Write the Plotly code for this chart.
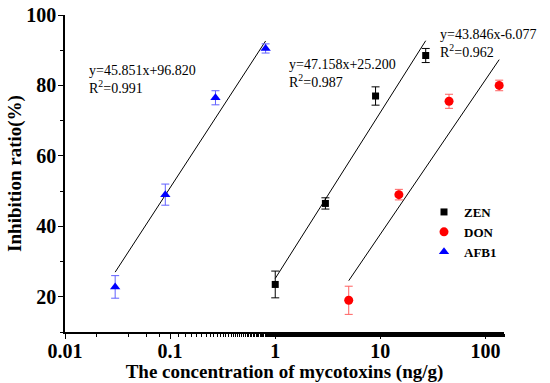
import numpy as np
import plotly.graph_objects as go

# Data
zen_x = [1, 3, 9, 27]
zen_y = [23.5, 46.5, 77.0, 88.5]
zen_err = [3.8, 1.6, 2.6, 2.0]

don_x = [5, 15, 45, 135]
don_y = [19.0, 49.0, 75.5, 80.0]
don_err = [4.0, 1.5, 2.0, 1.5]

afb_x = [0.03, 0.09, 0.27, 0.81]
afb_y = [22.8, 49.0, 76.5, 90.5]
afb_err = [3.2, 3.0, 2.0, 1.3]

# Fit coefficients (y = a*log10(x) + b, R^2)
zen_fit = (47.158, 25.200, 0.987)
don_fit = (43.846, -6.077, 0.962)
afb_fit = (45.851, 96.820, 0.991)

x_tickvals = [0.01, 0.1, 1, 10, 100]
x_ticktext = ["0.01", "0.1", "1", "10", "100"]
y_tickvals = [20, 40, 60, 80, 100]

SERIF = "Liberation Serif, Times New Roman, serif"

# plot-area geometry (pixels)
L, R, T, B = 65, 504, 15, 332
W, H = R - L, B - T

fig = go.Figure()

def fit_line(xs, coef):
    xe = np.array([min(xs), max(xs)], dtype=float)
    return xe, coef[0] * np.log10(xe) + coef[1]

for xs, coef in [(afb_x, afb_fit), (zen_x, zen_fit), (don_x, don_fit)]:
    lx, ly = fit_line(xs, coef)
    fig.add_trace(go.Scatter(x=lx, y=ly, mode="lines", line=dict(color="black", width=1),
                             showlegend=False, hoverinfo="skip"))

series = [
    ("ZEN", zen_x, zen_y, zen_err, "black", "black", "square", 7),
    ("DON", don_x, don_y, don_err, "red", "#ff6060", "circle", 9),
    ("AFB1", afb_x, afb_y, afb_err, "blue", "#6060ff", "triangle-up", 9),
]
for name, xs, ys, es, col, ecol, sym, sz in series:
    fig.add_trace(go.Scatter(
        x=xs, y=ys, mode="markers", name=name,
        marker=dict(color=col, symbol=sym, size=sz),
        error_y=dict(type="data", array=es, visible=True, color=ecol, thickness=1, width=4),
    ))

def eq_text(coef):
    a, b, r2 = coef
    sign = "+" if b >= 0 else "-"
    return f"y={a:.3f}x{sign}{abs(b):.3f}<br>R<sup>2</sup>={r2:.3f}"

ann_font = dict(family=SERIF, size=14, color="black")
for coef, px, py in [(afb_fit, 87, 80), (zen_fit, 287, 73), (don_fit, 438, 43)]:
    fig.add_annotation(text=eq_text(coef), xref="paper", yref="paper",
                       x=(px - L) / W, y=(B - py) / H,
                       xanchor="left", yanchor="middle", showarrow=False,
                       align="left", font=ann_font)

fig.update_layout(
    width=550, height=383,
    margin=dict(l=L, r=550 - R, t=T, b=383 - B, autoexpand=False),
    paper_bgcolor="white", plot_bgcolor="white",
    font=dict(family=SERIF, color="black"),
    legend=dict(x=(424 - L) / W, y=(B - 197) / H, xanchor="left", yanchor="top",
                font=dict(family=SERIF, size=13, color="black", weight="bold"),
                bgcolor="rgba(0,0,0,0)", itemwidth=30, tracegroupgap=0),
    xaxis=dict(
        type="log", range=[-2, np.log10(150)], automargin=True,
        tickvals=x_tickvals, ticktext=x_ticktext,
        ticks="outside", ticklen=5, tickwidth=1, tickcolor="black",
        showline=True, linecolor="black", linewidth=1.5,
        showgrid=False, zeroline=False, ticklabelstandoff=-5,
        minor=dict(ticks="outside", ticklen=3, tickcolor="black", showgrid=False),
        tickfont=dict(family=SERIF, size=20, color="black", weight="bold"),
        title=dict(text="The concentration of mycotoxins (ng/g)", standoff=0,
                   font=dict(family=SERIF, size=19, color="black", weight="bold")),
    ),
    yaxis=dict(
        range=[10, 100], tickvals=y_tickvals, automargin=True,
        ticks="outside", ticklen=5, tickwidth=1, tickcolor="black",
        showline=True, linecolor="black", linewidth=1.5,
        showgrid=False, zeroline=False, ticklabelstandoff=-2,
        minor=dict(ticks="outside", ticklen=3, tickcolor="black", dtick=10, tick0=0, showgrid=False),
        tickfont=dict(family=SERIF, size=20, color="black", weight="bold"),
        title=dict(text="Inhibition ratio(%)", standoff=0,
                   font=dict(family=SERIF, size=19, color="black", weight="bold")),
    ),
)

fig.write_html("out.html", config={"displayModeBar": False},
               post_script="document.body.style.margin='0';document.body.style.padding='0';")
